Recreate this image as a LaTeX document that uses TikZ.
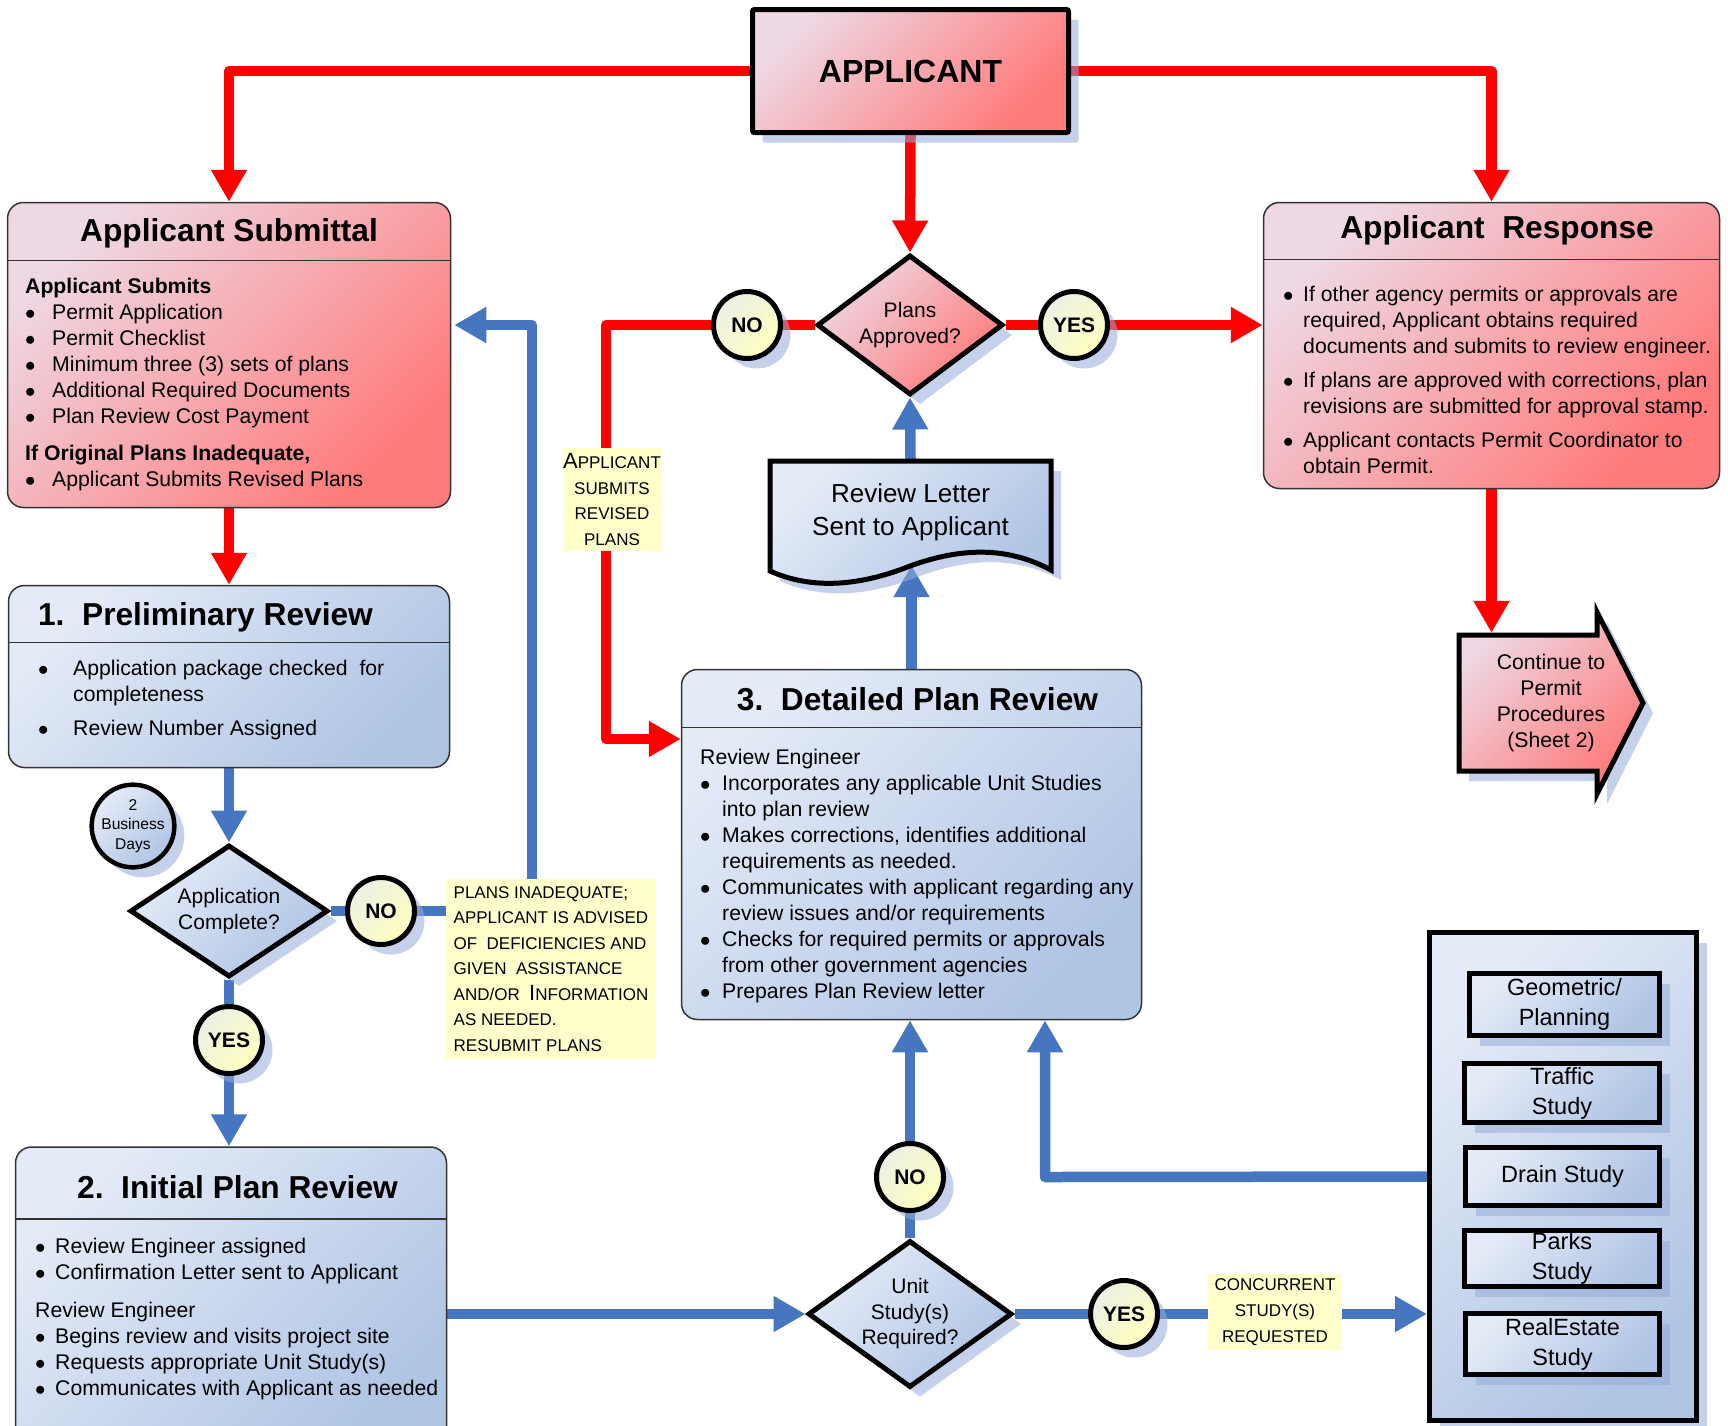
\documentclass[tikz,border=0pt]{standalone}
\usepackage{fontspec}
\setmainfont{Liberation Sans}
\usetikzlibrary{shapes,arrows.meta,shadows,backgrounds}

\definecolor{redlt}{RGB}{238,216,228}
\definecolor{reddk}{RGB}{255,122,122}
\definecolor{bluelt}{RGB}{228,235,247}
\definecolor{bluedk}{RGB}{176,196,228}
\definecolor{ylt}{RGB}{236,239,228}
\definecolor{ydk}{RGB}{255,255,192}
\definecolor{notey}{RGB}{255,255,204}
\definecolor{linered}{RGB}{255,0,0}
\definecolor{lineblue}{RGB}{70,118,192}
\definecolor{shadowc}{RGB}{150,172,218}

\newlength{\bulw}
\newcommand{\bul}{\makebox[\bulw][l]{$\bullet$}}
\newcommand{\ind}{\hspace*{\bulw}}

\tikzset{
  shad/.style={drop shadow={shadow xshift=10pt, shadow yshift=-10pt, fill=shadowc, opacity=0.55}},
  redfill/.style={left color=redlt, right color=reddk, shading angle=45},
  bluefill/.style={left color=bluelt, right color=bluedk, shading angle=45},
  box/.style={draw=black, line width=5pt},
  sec/.style 2 args={rounded corners=16pt, draw=black!80, line width=1.5pt, #2,
    path picture={\shade[sharp corners, #2] (path picture bounding box.north west) rectangle ([yshift=-#1]path picture bounding box.north east);
      \draw[black!80, line width=1.5pt] ([yshift=-#1]path picture bounding box.north west) -- ([yshift=-#1]path picture bounding box.north east);}},
  ttl/.style={font=\fontsize{31.7}{36}\selectfont\bfseries},
  txt/.style={font=\fontsize{21.2}{26}\selectfont, align=left, inner sep=0pt, anchor=north west},
  bw/.code={\setlength{\bulw}{#1}},
  decide/.style={diamond, box, shad, aspect=1.4, inner sep=0pt, align=center, font=\fontsize{21}{25.5}\selectfont},
  answer/.style={circle, box, shad, left color=ylt, right color=ydk, shading angle=45, minimum size=67pt, inner sep=0pt, font=\fontsize{21}{24}\selectfont\bfseries},
  note/.style={fill=notey, inner sep=0pt, font=\fontsize{17}{25.5}\selectfont},
  study/.style={box, bluefill, shad, inner sep=0pt, align=center, font=\fontsize{23.5}{30}\selectfont},
  redline/.style={draw=linered, line width=10.5pt, line join=round},
  redarrow/.style={redline, -{Triangle[width=34pt,length=32pt]}},
  blueline/.style={draw=lineblue, line width=10.5pt, line join=round},
  bluearrow/.style={blueline, -{Triangle[width=34pt,length=32pt]}},
}

\begin{document}
\begin{tikzpicture}[x=1pt, y=-1pt]
    \useasboundingbox (0,0) rectangle (1728,1425);
    %Applicant
    \node[box, redfill, shad, rounded corners=2pt, minimum width=316pt, minimum height=123pt, font=\fontsize{32}{36}\selectfont\bfseries] (app) at (910.5,71) {APPLICANT};
    %Applicant Submittal
    \node[sec={58pt}{redfill}, minimum width=443pt, minimum height=305pt] (sub) at (229,355) {};
    \node[ttl] (subt) at (229,233) {Applicant Submittal};
    \node[txt, bw=27pt] (subb) at (25,278) {\textbf{Applicant Submits}\\
      \bul Permit Application\\
      \bul Permit Checklist\\
      \bul Minimum three (3) sets of plans\\
      \bul Additional Required Documents\\
      \bul Plan Review Cost Payment\\[11pt]
      \textbf{If Original Plans Inadequate,}\\
      \bul Applicant Submits Revised Plans};
    %Applicant Response
    \node[sec={57pt}{redfill}, minimum width=456pt, minimum height=286pt] (resp) at (1491.5,345.5) {};
    \node[ttl] (respt) at (1497,230) {Applicant\ \ Response};
    \node[txt, bw=20pt] (respb) at (1283,286) {\bul If other agency permits or approvals are\\
      \ind required, Applicant obtains required\\
      \ind documents and submits to review engineer.\\[8pt]
      \bul If plans are approved with corrections, plan\\
      \ind revisions are submitted for approval stamp.\\[8pt]
      \bul Applicant contacts Permit Coordinator to\\
      \ind obtain Permit.};
    %Preliminary Review
    \node[sec={57pt}{bluefill}, minimum width=441pt, minimum height=182pt] (pre) at (229,676.5) {};
    \node[ttl] (pret) at (205.5,617) {1.\ \ Preliminary Review};
    \node[txt, bw=35pt] (preb) at (38,660) {\bul Application package checked\ \ for\\
      \ind completeness\\[8pt]
      \bul Review Number Assigned};
    %Detailed Plan Review
    \node[sec={58pt}{bluefill}, minimum width=460pt, minimum height=350pt] (dpr) at (911.5,844.5) {};
    \node[ttl] (dprt) at (917.5,699) {3.\ \ Detailed Plan Review};
    \node[txt, bw=22pt] (dprb) at (700,749) {Review Engineer\\
      \bul Incorporates any applicable Unit Studies\\
      \ind into plan review\\
      \bul Makes corrections, identifies additional\\
      \ind requirements as needed.\\
      \bul Communicates with applicant regarding any\\
      \ind review issues and/or requirements\\
      \bul Checks for required permits or approvals\\
      \ind from other government agencies\\
      \bul Prepares Plan Review letter};
    %Initial Plan Review
    \node[sec={72pt}{bluefill}, minimum width=431pt, minimum height=300pt] (init) at (231,1297) {};
    \node[ttl] (initt) at (237.5,1187) {2.\ \ Initial Plan Review};
    \node[txt, bw=20pt] (initb) at (35,1238) {\bul Review Engineer assigned\\
      \bul Confirmation Letter sent to Applicant\\[12pt]
      Review Engineer\\
      \bul Begins review and visits project site\\
      \bul Requests appropriate Unit Study(s)\\
      \bul Communicates with Applicant as needed};
    %Decisions
    \node[decide, redfill, minimum width=186pt, minimum height=140pt] (pa) at (910,325) {Plans\\Approved?};
    \node[decide, bluefill, minimum width=198pt, minimum height=132pt] (ac) at (229,911) {Application\\Complete?};
    \node[decide, bluefill, minimum width=204pt, minimum height=147pt] (us) at (910,1314) {Unit\\Study(s)\\Required?};
    \node[answer] (pano) at (747,325) {NO};
    \node[answer] (payes) at (1074,325) {YES};
    \node[answer] (acno) at (381,911) {NO};
    \node[answer] (acyes) at (229,1040) {YES};
    \node[answer] (usno) at (910,1177) {NO};
    \node[answer] (usyes) at (1124,1314) {YES};
    \node[circle, box, line width=4.5pt, bluefill, shad, minimum size=75pt, inner sep=0pt, align=center, font=\fontsize{15.6}{19.5}\selectfont] (bd) at (133,826) {2\\Business\\Days};
    %Notes
    \node[note, minimum width=210pt, minimum height=180pt, align=left] (inad) at (551,969) {PLANS INADEQUATE;\\
      APPLICANT IS ADVISED\\
      OF\ \ DEFICIENCIES AND\\
      GIVEN\ \ ASSISTANCE\\
      AND/OR\ \ {\fontsize{22}{25.5}\selectfont I}NFORMATION\\
      AS NEEDED.\\
      RESUBMIT PLANS};
    \node[note, minimum width=98pt, minimum height=103pt, align=center] (rev) at (612,499.5) {{\fontsize{22}{25.5}\selectfont A}PPLICANT\\SUBMITS\\REVISED\\PLANS};
    \node[note, minimum width=134pt, minimum height=76pt, align=center, font=\fontsize{17}{26}\selectfont] (conc) at (1275,1312) {CONCURRENT\\STUDY(S)\\REQUESTED};
    %Review letter
    \path[box, bluefill, shad] (770,461) -- (1051,461) -- (1051,570) .. controls (1010,548) and (965,546) .. (910,566) .. controls (860,586) and (812,590) .. (770,571) -- cycle;
    \node[align=center, font=\fontsize{26}{33}\selectfont, minimum width=285pt, minimum height=106pt, inner sep=0pt] (rl) at (910.5,512) {Review Letter\\Sent to Applicant};
    %Continue
    \path[box, redfill, shad, line join=miter] (1459,635) -- (1597,635) -- (1597,612) -- (1643,703) -- (1597,794) -- (1597,771) -- (1459,771) -- cycle;
    \node[align=center, font=\fontsize{21.2}{26}\selectfont, minimum width=188pt, minimum height=140pt, inner sep=0pt] (cont) at (1551,703) {Continue to\\Permit\\Procedures\\(Sheet 2)};
    %Unit studies
    \node[box, bluefill, shad, minimum width=267pt, minimum height=488pt] (stud) at (1563,1176.5) {};
    \node[study, minimum width=190pt, minimum height=62pt] (geo) at (1564.5,1004.5) {Geometric/\\Planning};
    \node[study, minimum width=195pt, minimum height=59pt] (traf) at (1562,1093) {Traffic\\Study};
    \node[study, minimum width=194pt, minimum height=58pt] (drain) at (1562.5,1176.5) {Drain Study};
    \node[study, minimum width=195pt, minimum height=56pt] (parks) at (1562,1258.5) {Parks\\Study};
    \node[study, minimum width=194pt, minimum height=61pt] (real) at (1562.5,1344) {RealEstate\\Study};
    \coordinate (rv) at (606,325);
    \coordinate (rvb) at (606,739);
    \coordinate (up) at (532,325);
    \coordinate (fb) at (1045,1177);
    %Connectors
    \begin{scope}[on background layer]
      \draw[redarrow] (app.west) -| (sub.north);
      \draw[redarrow] (app.east) -| (resp.north);
      \draw[redarrow] (app.south) -- (pa.north);
      \draw[redarrow] (sub.south) -- (pre.north);
      \draw[redline] (pa.west) -- (pano.east);
      \draw[redarrow] (pano.west) -- (rv) -- (rvb) -- (rvb -| dpr.west);
      \draw[redline] (pa.east) -- (payes.west);
      \draw[redarrow] (payes.east) -- (payes.east -| resp.west);
      \draw[redarrow] (resp.south) -- (resp.south |- cont.north);
      \draw[bluearrow] (pre.south) -- (ac.north);
      \draw[blueline] (ac.south) -- (acyes.north);
      \draw[bluearrow] (acyes.south) -- (acyes.south |- init.north);
      \draw[blueline] (ac.east) -- (acno.west);
      \draw[blueline] (acno.east) -- (acno.east -| inad.west);
      \draw[bluearrow, shorten >=3pt] (inad.north -| up) -- (up) -- (up -| sub.east);
      \draw[bluearrow] (rl.north) -- (pa.south);
      \draw[bluearrow] (dpr.north) -- (dpr.north |- rl.south);
      \draw[bluearrow] (init.east |- us.west) -- (us.west);
      \draw[blueline] (us.north) -- (usno.south);
      \draw[bluearrow] (usno.north) -- (usno.north |- dpr.south);
      \draw[blueline] (us.east) -- (usyes.west);
      \draw[blueline] (usyes.east) -- (usyes.east -| conc.west);
      \draw[bluearrow] (conc.east |- usyes.east) -- (usyes.east -| stud.west);
      \draw[bluearrow, line cap=round] (stud.west |- drain.west) -- (fb) -- (fb |- dpr.south);
    \end{scope}
\end{tikzpicture}
\end{document}
